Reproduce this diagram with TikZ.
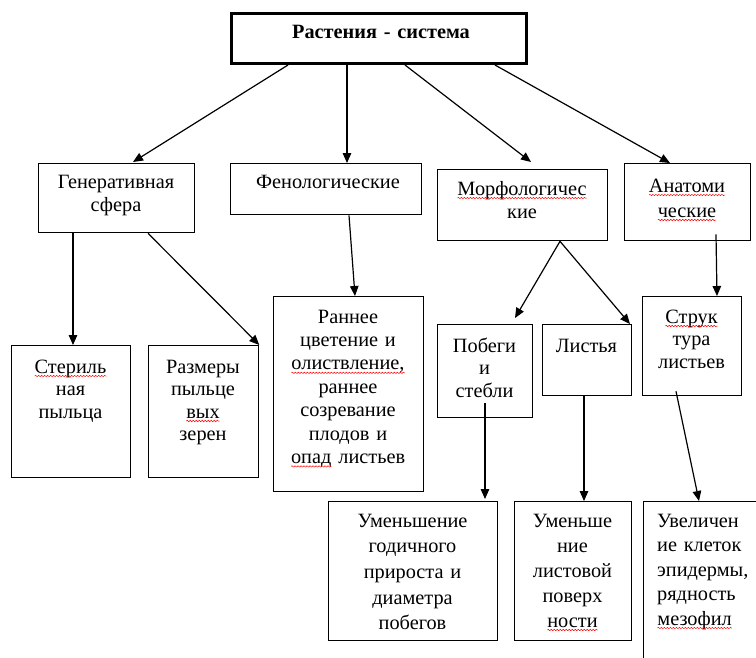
\documentclass[tikz,border=0pt]{standalone}
\usepackage{fontspec}
\setmainfont{Liberation Serif}
\newfontfamily\tnr{Liberation Serif}
\usetikzlibrary{arrows.meta,calc,decorations.pathmorphing}
\newcommand\wv[1]{\tikz[baseline=(wvw.base)]{\node[inner sep=0pt,outer sep=0pt,draw=none](wvw){#1};\draw[red,line width=0.5pt,decorate,decoration={snake,amplitude=0.7pt,segment length=3pt}] ($(wvw.base west)+(0,-3pt)$)--($(wvw.base east)+(0,-3pt)$);}}
\newcommand\fs[1]{\tnr\fontsize{20.3}{#1}\selectfont}
\tikzset{
  bx/.style={draw, line width=1.3pt, anchor=north west, inner sep=0pt},
  txt/.style={anchor=base, inner sep=0pt, text width=170pt, align=center,
    font=\fs{23.4}},
  arr/.style={line width=1.2pt, -{Triangle[length=10pt,width=8.5pt]}},
}
\begin{document}
\begin{tikzpicture}[x=1pt,y=-1pt]
\useasboundingbox (0,0) rectangle (756,657);
\clip (0,0) rectangle (756,657);
% boxes
\node[bx, line width=3pt, minimum width=295pt, minimum height=50pt] (top) at (230,12) {};
\node[bx, minimum width=156pt, minimum height=69pt] (gen) at (38,163) {};
\node[bx, minimum width=191pt, minimum height=51pt] (fen) at (230,163) {};
\node[bx, minimum width=170pt, minimum height=71pt] (morf) at (437,169) {};
\node[bx, minimum width=126pt, minimum height=77pt] (anat) at (624,163) {};
\node[bx, minimum width=119pt, minimum height=132pt] (ster) at (11,345) {};
\node[bx, minimum width=110pt, minimum height=132pt] (razm) at (148,345) {};
\node[bx, minimum width=150pt, minimum height=195pt] (rann) at (273,296) {};
\node[bx, minimum width=95pt, minimum height=93pt] (pob) at (437,324) {};
\node[bx, minimum width=89pt, minimum height=71pt] (list) at (542,324) {};
\node[bx, minimum width=99pt, minimum height=99pt] (strk) at (642,296) {};
\node[bx, minimum width=169pt, minimum height=139pt] (umg) at (328,501) {};
\node[bx, minimum width=117pt, minimum height=139pt] (uml) at (514,501) {};
\node[bx, minimum width=160pt, minimum height=200pt] (uvl) at (643,501) {};
% texts
\node[txt, text width=290pt, font=\fs{23.4}\bfseries] (ttop) at (381,38) {Растения - система};
\node[txt] (tgen) at (116,188) {Генеративная\\сфера};
\node[txt] (tfen) at (328,188) {Фенологические};
\node[txt] (tmorf) at (522,195) {\wv{Морфологичес}\\кие};
\node[txt, font=\fs{25}] (tanat) at (687,192) {\wv{Анатоми}\\\wv{ческие}};
\node[txt, font=\fs{22.5}] (tster) at (70.5,373) {\wv{Стериль}\\ная\\пыльца};
\node[txt, font=\fs{22.5}] (trazm) at (203,373) {Размеры\\пыльце\\\wv{вых}\\зерен};
\node[txt] (trann) at (348,323) {Раннее\\цветение и\\\wv{олиствление,}\\раннее\\созревание\\плодов и\\\wv{опад} листьев};
\node[txt, font=\fs{22.5}] (tpob) at (484.5,352) {Побеги\\и\\стебли};
\node[txt] (tlist) at (586.5,352) {Листья};
\node[txt, font=\fs{22.5}] (tstrk) at (691.5,323) {\wv{Струк}\\тура\\листьев};
\node[txt, font=\fs{25.7}] (tumg) at (412.5,527) {Уменьшение\\годичного\\прироста и\\диаметра\\побегов};
\node[txt, font=\fs{25}] (tuml) at (572.5,527) {Уменьше\\ние\\листовой\\поверх\\\wv{ности}};
\node[txt, anchor=base west, align=left, font=\fs{24.5}] (tuvl) at (657,527) {Увеличен\\ие клеток\\эпидермы,\\рядность\\\wv{мезофил}};
% connectors
\draw[arr] ($(top.south west)+(58,0)$) -- ($(gen.north west)+(95,-1)$);
\draw[arr] ($(top.south west)+(117,0)$) -- ($(fen.north west)+(117,0)$);
\draw[arr] ($(top.south west)+(175,0)$) -- ($(morf.north west)+(94,-7)$);
\draw[arr] ($(top.south west)+(265,0)$) -- ($(anat.north west)+(46,0)$);
\draw[arr] ($(gen.south west)+(35,0)$) -- ($(ster.north west)+(62,0)$);
\draw[arr] ($(gen.south west)+(110,0)$) -- (razm.north east);
\draw[arr] ($(fen.south west)+(119,0)$) -- ($(rann.north west)+(82,0)$);
\draw[arr] ($(morf.south west)+(123,0)$) -- ($(pob.north west)+(78,-6)$);
\draw[arr] ($(morf.south west)+(123,0)$) -- ($(list.north west)+(88,0)$);
\draw[arr] ($(anat.south west)+(92,-7)$) -- ($(strk.north west)+(75,0)$);
\draw[arr] ($(pob.south west)+(48,-15)$) -- ($(umg.north west)+(157,-2)$);
\draw[arr] ($(list.south west)+(42,0)$) -- ($(uml.north west)+(70,0)$);
\draw[arr] ($(strk.south west)+(34,-5)$) -- ($(uvl.north west)+(56,0)$);
\end{tikzpicture}
\end{document}
